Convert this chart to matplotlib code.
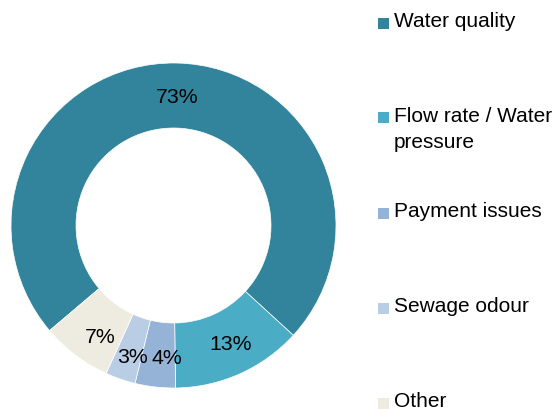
import matplotlib
matplotlib.use("Agg")
import matplotlib.pyplot as plt
from matplotlib.patches import Rectangle

plt.rcParams['font.family'] = ['Liberation Sans', 'DejaVu Sans']

# Survey: main reasons for complaints
categories = ["Water quality", "Flow rate / Water\npressure", "Payment issues",
              "Sewage odour", "Other"]
shares = [73, 13, 4, 3, 7]
colors = ["#31849B", "#4BACC6", "#95B3D7", "#B9CDE5", "#EEECE1"]

W, H = 559, 409
fig = plt.figure(figsize=(W / 100, H / 100), dpi=100)

# donut axes: centre (173.5, 225.5) px, outer radius 162.5 px
cx, cy, r = 173.5, 225.5, 162.5
ax = fig.add_axes([(cx - r) / W, (H - cy - r) / H, 2 * r / W, 2 * r / H])
wedges, texts, autotexts = ax.pie(
    shares, colors=colors, startangle=220.3, counterclock=False,
    radius=1, pctdistance=0.8,
    autopct=lambda p: f"{p:.0f}%",
    wedgeprops=dict(width=0.4, edgecolor="white", linewidth=0.5),
    textprops=dict(fontsize=15.3, color="black"))
ax.set_xlim(-1, 1)
ax.set_ylim(-1, 1)
ax.set_aspect("equal")
ax.axis("off")

# small nudges so the labels sit like in the original
nudges = [(0.01, -0.01), (0.025, 0.0), (0.05, -0.025), (0.012, -0.055), (0.03, -0.05)]
for t, (dx, dy) in zip(autotexts, nudges):
    x, y = t.get_position()
    t.set_position((x + dx, y + dy))

# legend drawn by hand, one entry every 95 px
y0, step = 23, 95
for i, (lab, col) in enumerate(zip(categories, colors)):
    yc = y0 + i * step
    fig.patches.append(Rectangle((378 / W, 1 - (yc + 5.5) / H), 11 / W, 11 / H,
                                 transform=fig.transFigure, facecolor=col,
                                 edgecolor="none"))
    fig.text(394 / W, 1 - (yc - 11) / H, lab, fontsize=15, color="black",
             va="top", ha="left", linespacing=1.45)

fig.savefig("out.png", dpi=100)
